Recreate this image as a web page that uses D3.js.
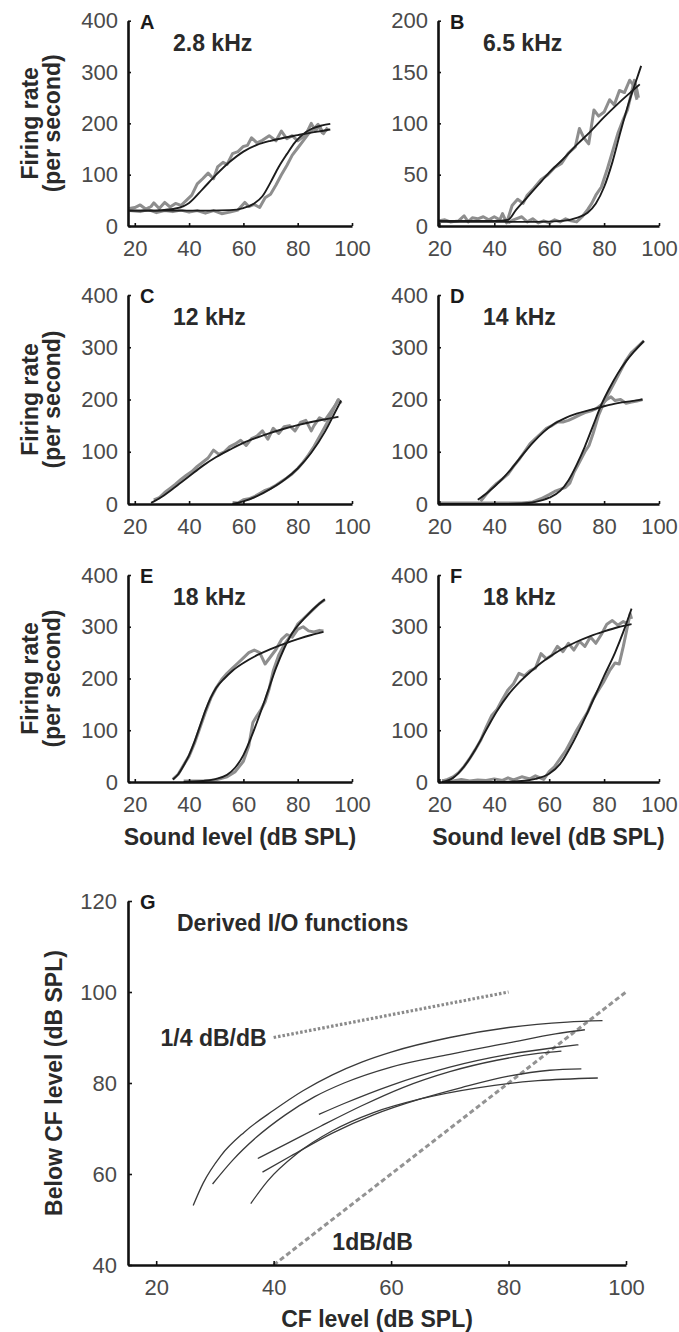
<!DOCTYPE html>
<html>
<head>
<meta charset="utf-8">
<script src="https://cdn.jsdelivr.net/npm/d3@7"></script>
<style>
  body { margin: 0; background: #fff; }
  svg { display: block; }
  text { font-family: "Liberation Sans", Arial, Helvetica, sans-serif; }
</style>
</head>
<body>
<svg id="chart" width="679" height="1332"></svg>
<script>
// ---- tick labels ----
const levelTicks = [20, 40, 60, 80, 100]
const rateTicks400 = [0, 100, 200, 300, 400]
const rateTicks200 = [0, 50, 100, 150, 200]
const cfTicks = [20, 40, 60, 80, 100]
const belowTicks = [40, 60, 80, 100, 120]

// ---- rate-level functions: [sound level dB SPL, spikes/s] ----
// A: 2.8 kHz
const aRawEarly = [[18,34],[20,36],[22,41],[24,33],[26,38],[27,45],[29,34],[31,46],[33,37],[35,44],[37,40],[39,50],[41,60],[43,82],[45,92],[47,103],[49,92],[50.5,115],[52.5,124],[54,120],[56,141],[58,145],[60,155],[61.5,157],[63,172],[65,162],[67,167],[69.5,176],[72,166],[74,185],[76,170],[78,176],[80,166],[82,174],[83.5,184],[85,200],[86.5,185],[88,195],[89.5,180],[91,192]]
const aFitEarly = [[18,30],[25,30],[30,31],[35,34],[40,45],[45,72],[50,100],[55,125],[60,145],[65,158],[70,166],[75,172],[80,177],[85,182],[90,186],[92,188]]
const aRawLate = [[18,30],[22,28],[25,32],[28,26],[31,30],[34,28],[37,31],[40,27],[43,30],[46,25],[49,30],[52,24],[55,27],[58,31],[60.5,46],[62,38],[64,42],[66,36],[68,55],[70,62],[72,80],[74,100],[76,118],[78,138],[80,152],[82,166],[84,180],[86,190],[87.5,198],[89,182],[91,188]]
const aFitLate = [[18,30],[40,30],[55,31],[60,35],[64,44],[67,58],[70,85],[73,115],[76,140],[79,163],[82,179],[85,189],[89,196],[92,199]]

// B: 6.5 kHz
const bRawEarly = [[19.5,5],[22,6],[24,4],[27,5],[29,10],[30.5,4],[32,8],[34,7],[36,9],[38,6],[40,9],[42,6],[43,12],[44.5,3],[46.5,20],[48.5,26],[50.5,22],[52,30],[54.5,37],[57,45],[59.5,50],[62,57],[64.5,61],[67,71],[69.5,77],[71,95],[72.6,86],[74.4,80],[76.3,113],[78,107],[80,111],[82,123],[83.7,118],[85.6,132],[87.4,130],[89.3,142],[90.5,138],[92,123]]
const bFitEarly = [[19.5,5],[30,5],[40,5],[45,6],[48,16],[52,28],[56,40],[60,52],[65,65],[70,79],[75,92],[80,106],[85,119],[90,131],[93,138]]
const bRawLate = [[45,3],[47,6],[50,9],[52,4],[54,7],[56,3],[58,5],[60,3],[62,6],[64,4],[66,7],[68,5],[70,4],[72,9],[74,16],[75.5,22],[77,30],[79,38],[81,54],[83,72],[85,90],[87,104],[88.5,113],[90,130],[91,142],[92,132],[92.5,125]]
const bFitLate = [[19.5,4],[40,4],[55,4],[65,5],[70,8],[74,13],[77,22],[80,38],[83,62],[86,92],[89,120],[91.5,140],[93.5,156]]

// C: 12 kHz
const cRawEarly = [[27,8],[29,12],[31,22],[33,30],[35,38],[37,47],[39,55],[41,62],[43,72],[45,80],[47,88],[49,103],[51,95],[53,100],[55,110],[57,115],[59,122],[61,112],[63,125],[65,130],[67,140],[69,124],[71,145],[73,135],[75,148],[77,150],[79,140],[81,156],[83,160],[85,140],[86,150],[88,165],[90,160],[92,175],[94,190],[95,200]]
const cFitEarly = [[26,2],[30,14],[35,33],[40,53],[45,73],[50,90],[55,104],[60,117],[65,127],[70,136],[75,144],[80,151],[85,157],[90,162],[95,167]]
const cRawLate = [[56,3],[58,2],[60,8],[62,10],[64,14],[66,20],[68,26],[70,30],[72,36],[74,43],[76,50],[78,58],[80,68],[82,80],[84,94],[86,110],[87.5,124],[89,138],[90.5,152],[92,168],[93.5,185],[95,200],[96,192]]
const cFitLate = [[56,0],[60,5],[65,15],[70,29],[75,46],[80,68],[85,98],[90,138],[94,178],[96,198]]

// D: 14 kHz
const dRawEarly = [[35,5],[37,18],[39,30],[41,40],[43,48],[45,57],[47,72],[49,85],[51,100],[53,115],[55,125],[57,135],[59,145],[61,150],[63,157],[65,157],[67,160],[69,165],[71,170],[73,175],[75,178],[77,182],[79,190],[81,200],[82.5,205],[84,198],[86,200],[88,193],[90,195],[92,197],[94,200]]
const dFitEarly = [[34,8],[38,24],[42,43],[46,66],[50,92],[54,117],[58,138],[62,154],[66,165],[70,173],[75,180],[80,187],[85,193],[90,197],[94,200]]
const dRawLate = [[20,2],[30,2],[40,2],[50,2],[54,4],[57,10],[60,18],[62,24],[64,28],[66,32],[67.5,40],[69,60],[71,80],[73,100],[74.5,112],[76,135],[78,170],[80,195],[82,215],[84,235],[86,255],[88,275],[90,290],[92,300],[94.5,312]]
const dFitLate = [[20,0],[40,0],[50,1],[55,4],[60,12],[64,25],[67,45],[70,75],[73,110],[76,150],[79,190],[82,222],[85,250],[88,273],[91,292],[94.5,312]]

// E: 18 kHz
const eRawEarly = [[34,5],[36,15],[38,33],[40,50],[42,75],[44,105],[46,135],[48,162],[50,182],[52,198],[54,210],[56,220],[58,230],[60,240],[62,250],[64,255],[66,250],[68,228],[70,242],[72,256],[74,275],[76,285],[78,280],[80,295],[82,300],[84,292],[86,290],[88,293],[89.5,292]]
const eFitEarly = [[34,5],[36,15],[38,32],[40,52],[42,78],[44,108],[46,138],[48,163],[50,182],[53,200],[56,215],[60,230],[65,245],[70,257],[75,267],[80,276],[85,284],[89.5,290]]
const eRawLate = [[38,2],[45,2],[50,4],[54,10],[57,20],[60,40],[62,70],[63.5,115],[65,128],[66.5,140],[68,155],[69.5,180],[71,215],[73,245],[75,265],[77,280],[78.5,290],[80,305],[82,315],[84,325],[86,335],[88,345],[90,352]]
const eFitLate = [[38,0],[45,2],[50,6],[54,14],[57,28],[60,52],[63,88],[66,130],[69,175],[72,220],[75,258],[78,288],[81,308],[84,325],[87,340],[90,353]]

// F: 18 kHz
const fRawEarly = [[21,2],[23,5],[25,10],[27,18],[29,30],[31,45],[33,62],[35,80],[37,105],[39,128],[41,140],[43,160],[45,178],[47,190],[49,210],[51,205],[53,215],[55,220],[57,248],[59,238],[61,245],[63,262],[65,252],[67,268],[69,255],[71,272],[73,262],[75,280],[77,268],[79,285],[81,305],[83,312],[85,303],[87,310],[89,305]]
const fFitEarly = [[21,0],[25,8],[29,30],[33,62],[37,100],[41,137],[45,168],[49,192],[53,212],[57,230],[61,245],[65,258],[70,271],[75,282],[80,291],[85,299],[90,305]]
const fRawLate = [[21,3],[25,2],[28,5],[31,2],[34,4],[37,3],[40,6],[43,3],[45,8],[47,4],[50,10],[53,6],[55,12],[58,5],[60,20],[62,30],[64,45],[66,60],[68,80],[70,100],[72,118],[74,135],[76,160],[78,178],[80,195],[82,215],[84,230],[85.5,228],[87,262],[88.5,300],[89.5,325],[90,315]]
const fFitLate = [[21,0],[40,0],[50,2],[55,6],[60,16],[64,35],[68,70],[72,112],[76,158],[80,205],[84,250],[87,290],[90,335]]

// ---- G: derived I/O functions [CF level, below-CF level] ----
const ioCurve1 = [[26.3,53.1],[28,58],[31,64],[35,69.2],[40,74],[45,78.3],[50,81.8],[55,84.6],[60,86.8],[70,90],[80,92.2],[90,93.4],[96,93.7]]
const ioCurve2 = [[29.6,57.8],[33,63],[37,68],[42,73],[47,77],[52,80],[60,83.5],[70,86.3],[80,88.8],[88,90.8],[93,91.7]]
const ioCurve3 = [[47.7,73.1],[52,75.5],[60,79.5],[70,83.5],[80,86.3],[88,87.8],[91.9,88.4]]
const ioCurve4 = [[37.3,63.4],[42,66.5],[48,70.5],[55,75],[62,79],[70,82.5],[78,85],[85,86.5],[89,87]]
const ioCurve5 = [[38.1,60.4],[43,64],[50,69],[57,73],[65,76.5],[72,79],[80,81.5],[87,82.8],[92.4,83.1]]
const ioCurve6 = [[36.1,53.5],[39,58.5],[44,64.5],[50,69.5],[57,73.5],[65,76.5],[75,79],[85,80.5],[95.2,81.1]]
const quarterSlope = [[40,90],[80,100]]
const unitySlope = [[40,40],[100,100]]

const svg = d3.select('#chart')
svg.append('rect').attr('width', 679).attr('height', 1332).attr('fill', '#fff')

const tickFont = 22
const labelFont = 23

function styleAxis(g) {
  g.select('.domain').attr('stroke', '#111').attr('stroke-width', 2.6)
  g.selectAll('.tick line').attr('stroke', '#111').attr('stroke-width', 1.6)
  g.selectAll('.tick text')
    .attr('fill', '#4a4a4a')
    .style('font-size', `${tickFont}px`)
}

function drawPanel({
  letter, title, left, right, top, bottom, xDomain, yMax, yTicks,
  rawEarly, fitEarly, rawLate, fitLate, yLabel = false, xLabel = false,
}) {
  const x = d3.scaleLinear().domain(xDomain).range([left, right])
  const y = d3.scaleLinear().domain([0, yMax]).range([bottom, top])
  const g = svg.append('g')

  const raw = d3.line().x(d => x(d[0])).y(d => y(d[1]))
  const fit = d3.line().curve(d3.curveMonotoneX).x(d => x(d[0])).y(d => y(d[1]))

  ;[rawEarly, rawLate].forEach(data => {
    g.append('path')
      .attr('d', raw(data))
      .attr('fill', 'none')
      .attr('stroke', '#8e8e8e')
      .attr('stroke-width', 3)
      .attr('stroke-linejoin', 'round')
  })
  ;[fitEarly, fitLate].forEach(data => {
    g.append('path')
      .attr('d', fit(data))
      .attr('fill', 'none')
      .attr('stroke', '#1c1c1c')
      .attr('stroke-width', 1.9)
  })

  g.append('g')
    .attr('transform', `translate(0,${bottom})`)
    .call(d3.axisBottom(x).tickValues(levelTicks).tickSizeInner(-3).tickSizeOuter(0).tickPadding(14))
    .call(styleAxis)
  g.append('g')
    .attr('transform', `translate(${left},0)`)
    .call(d3.axisLeft(y).tickValues(yTicks).tickSizeInner(-3).tickSizeOuter(0).tickPadding(10))
    .call(styleAxis)

  g.append('text')
    .attr('x', left + 12).attr('y', top + 8)
    .attr('font-weight', 'bold').attr('font-size', 20).attr('fill', '#1a1a1a')
    .text(letter)
  g.append('text')
    .attr('x', left + 45).attr('y', top + 30)
    .attr('font-weight', 'bold').attr('font-size', labelFont).attr('fill', '#2a2a2a')
    .text(title)

  if (yLabel) {
    const cy = (top + bottom) / 2
    ;[['Firing rate', 38], ['(per second)', 60]].forEach(([t, bx]) => {
      g.append('text')
        .attr('transform', `translate(${bx},${cy}) rotate(-90)`)
        .attr('text-anchor', 'middle')
        .attr('font-weight', 'bold').attr('font-size', labelFont).attr('fill', '#2a2a2a')
        .text(t)
    })
  }
  if (xLabel) {
    g.append('text')
      .attr('x', (left + right) / 2).attr('y', bottom + 63)
      .attr('text-anchor', 'middle')
      .attr('font-weight', 'bold').attr('font-size', labelFont).attr('fill', '#2a2a2a')
      .text('Sound level (dB SPL)')
  }
}

const leftCol = { left: 128, right: 352, xDomain: [17.5, 100] }
const rightCol = { left: 438, right: 659, xDomain: [19.5, 100] }
const row1 = { top: 20.7, bottom: 226 }
const row2 = { top: 295, bottom: 504 }
const row3 = { top: 575, bottom: 782 }

drawPanel({ ...leftCol, ...row1, letter: 'A', title: '2.8 kHz', yMax: 400, yTicks: rateTicks400,
  rawEarly: aRawEarly, fitEarly: aFitEarly, rawLate: aRawLate, fitLate: aFitLate, yLabel: true })
drawPanel({ ...rightCol, ...row1, letter: 'B', title: '6.5 kHz', yMax: 200, yTicks: rateTicks200,
  rawEarly: bRawEarly, fitEarly: bFitEarly, rawLate: bRawLate, fitLate: bFitLate })
drawPanel({ ...leftCol, ...row2, letter: 'C', title: '12 kHz', yMax: 400, yTicks: rateTicks400,
  rawEarly: cRawEarly, fitEarly: cFitEarly, rawLate: cRawLate, fitLate: cFitLate, yLabel: true })
drawPanel({ ...rightCol, ...row2, letter: 'D', title: '14 kHz', yMax: 400, yTicks: rateTicks400,
  rawEarly: dRawEarly, fitEarly: dFitEarly, rawLate: dRawLate, fitLate: dFitLate })
drawPanel({ ...leftCol, ...row3, letter: 'E', title: '18 kHz', yMax: 400, yTicks: rateTicks400,
  rawEarly: eRawEarly, fitEarly: eFitEarly, rawLate: eRawLate, fitLate: eFitLate, yLabel: true, xLabel: true })
drawPanel({ ...rightCol, ...row3, letter: 'F', title: '18 kHz', yMax: 400, yTicks: rateTicks400,
  rawEarly: fRawEarly, fitEarly: fFitEarly, rawLate: fRawLate, fitLate: fFitLate, xLabel: true })

// ---- panel G ----
const xG = d3.scaleLinear().domain([15.2, 100]).range([128, 626])
const yG = d3.scaleLinear().domain([40, 120]).range([1265, 901])
const gG = svg.append('g')

const ioLine = d3.line().curve(d3.curveMonotoneX).x(d => xG(d[0])).y(d => yG(d[1]))
const straight = d3.line().x(d => xG(d[0])).y(d => yG(d[1]))

gG.append('path')
  .attr('d', straight(quarterSlope))
  .attr('fill', 'none').attr('stroke', '#8a8a8a').attr('stroke-width', 3.2)
  .attr('stroke-dasharray', '2.5,2')
gG.append('path')
  .attr('d', straight(unitySlope))
  .attr('fill', 'none').attr('stroke', '#939393').attr('stroke-width', 3)
  .attr('stroke-dasharray', '5,3')

;[ioCurve1, ioCurve2, ioCurve3, ioCurve4, ioCurve5, ioCurve6].forEach(data => {
  gG.append('path')
    .attr('d', ioLine(data))
    .attr('fill', 'none').attr('stroke', '#3a3a3a').attr('stroke-width', 1.3)
})

gG.append('g')
  .attr('transform', 'translate(0,1265)')
  .call(d3.axisBottom(xG).tickValues(cfTicks).tickSizeInner(-4).tickSizeOuter(0).tickPadding(14))
  .call(styleAxis)
gG.append('g')
  .attr('transform', 'translate(128,0)')
  .call(d3.axisLeft(yG).tickValues(belowTicks).tickSizeInner(-4).tickSizeOuter(0).tickPadding(11))
  .call(styleAxis)

gG.append('text')
  .attr('x', 140).attr('y', 909)
  .attr('font-weight', 'bold').attr('font-size', 20).attr('fill', '#1a1a1a')
  .text('G')
gG.append('text')
  .attr('x', 177).attr('y', 931)
  .attr('font-weight', 'bold').attr('font-size', labelFont).attr('fill', '#2a2a2a')
  .text('Derived I/O functions')
gG.append('text')
  .attr('x', xG(quarterSlope[0][0]) - 7).attr('y', yG(quarterSlope[0][1]) + 8)
  .attr('text-anchor', 'end')
  .attr('font-weight', 'bold').attr('font-size', labelFont).attr('fill', '#2a2a2a')
  .text('1/4 dB/dB')
gG.append('text')
  .attr('x', xG(50)).attr('y', yG(43.3))
  .attr('font-weight', 'bold').attr('font-size', labelFont).attr('fill', '#2a2a2a')
  .text('1dB/dB')
gG.append('text')
  .attr('x', 377).attr('y', 1327)
  .attr('text-anchor', 'middle')
  .attr('font-weight', 'bold').attr('font-size', labelFont).attr('fill', '#2a2a2a')
  .text('CF level (dB SPL)')
gG.append('text')
  .attr('transform', 'translate(62,1083) rotate(-90)')
  .attr('text-anchor', 'middle')
  .attr('font-weight', 'bold').attr('font-size', labelFont).attr('fill', '#2a2a2a')
  .text('Below CF level (dB SPL)')
</script>
</body>
</html>
